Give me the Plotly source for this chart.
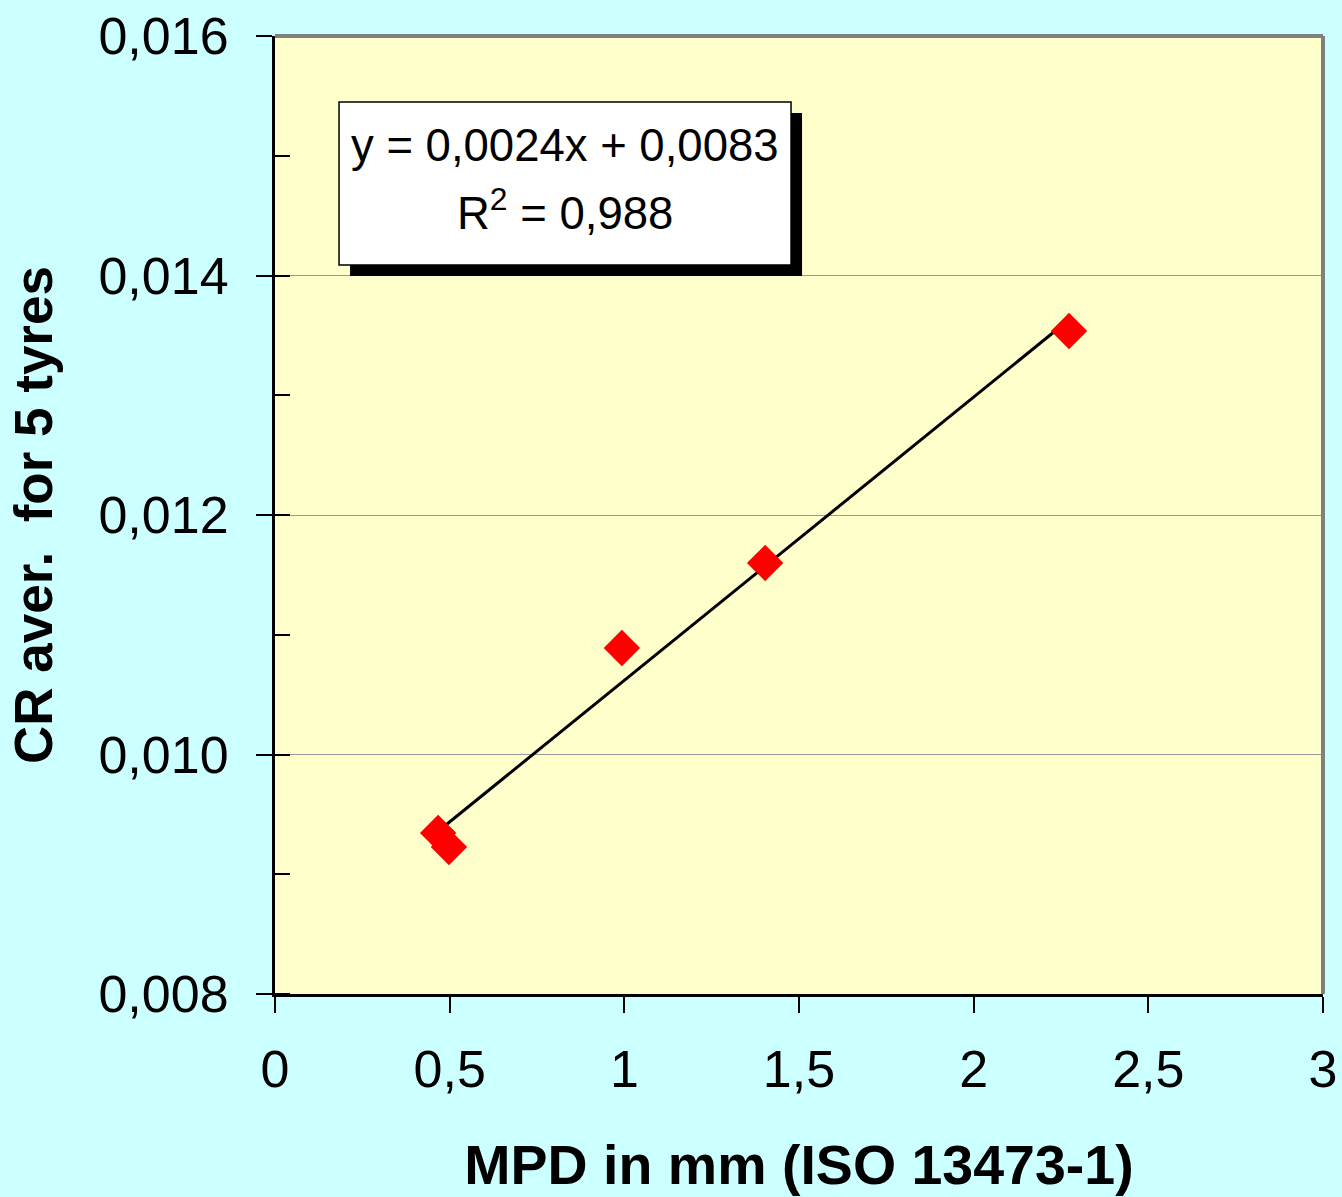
import numpy as np
import plotly.graph_objects as go

# Data
mpd = [0.467, 0.498, 0.993, 1.403, 2.273]
cr = [0.009344, 0.009228, 0.010889, 0.011599, 0.013537]
x_ticks = [0, 0.5, 1, 1.5, 2, 2.5, 3]
x_tick_labels = ["0", "0,5", "1", "1,5", "2", "2,5", "3"]
y_ticks = [0.008, 0.010, 0.012, 0.014, 0.016]
y_tick_labels = ["0,008", "0,010", "0,012", "0,014", "0,016"]
eq_text = "y = 0,0024x + 0,0083"
r2_text = "R<sup>2</sup> = 0,988"

# linear trend line from data
slope, intercept = np.polyfit(mpd, cr, 1)
trend_x = [min(mpd), max(mpd)]
trend_y = [slope * v + intercept for v in trend_x]

FONT = "Liberation Sans, Arial, sans-serif"

fig = go.Figure()
fig.add_trace(go.Scatter(x=trend_x, y=trend_y, mode="lines",
                         line=dict(color="black", width=3), showlegend=False,
                         hoverinfo="skip"))
fig.add_trace(go.Scatter(x=mpd, y=cr, mode="markers",
                         marker=dict(symbol="diamond", size=28, color="#FF0000",
                                     line=dict(width=0)),
                         showlegend=False))

# box with shadow (paper coords)
fig.add_shape(type="rect", xref="paper", yref="paper",
              x0=0.0716, x1=0.5029, y0=0.7495, y1=0.9196,
              fillcolor="black", line=dict(width=0), layer="above")
fig.add_shape(type="rect", xref="paper", yref="paper",
              x0=0.0611, x1=0.4924, y0=0.7610, y1=0.9311,
              fillcolor="white", line=dict(color="black", width=1.5), layer="above")
fig.add_annotation(xref="paper", yref="paper", x=0.2767, y=0.886, text=eq_text,
                   showarrow=False, font=dict(family=FONT, size=45.5, color="black"),
                   xanchor="center", yanchor="middle")
fig.add_annotation(xref="paper", yref="paper", x=0.2767, y=0.8184, text=r2_text,
                   showarrow=False, font=dict(family=FONT, size=45.5, color="black"),
                   xanchor="center", yanchor="middle")

# gray top/right border
fig.add_shape(type="line", xref="paper", yref="paper", x0=0, x1=1, y0=1, y1=1,
              line=dict(color="#808080", width=4), layer="above")
fig.add_shape(type="line", xref="paper", yref="paper", x0=1, x1=1, y0=0, y1=1,
              line=dict(color="#808080", width=4), layer="above")

fig.update_layout(
    width=1342, height=1197,
    margin=dict(l=275, r=19, t=36, b=203),
    paper_bgcolor="#CCFFFF", plot_bgcolor="#FFFFCC",
    separators=",.",
    font=dict(family=FONT, color="black"),
    showlegend=False,
)
fig.update_xaxes(
    range=[0, 3], tickvals=x_ticks, ticktext=x_tick_labels,
    showgrid=False, zeroline=False,
    showline=True, linecolor="black", linewidth=3,
    ticks="outside", ticklen=16, tickwidth=2, tickcolor="black",
    tickfont=dict(size=52, family=FONT, color="black"),
    ticklabelstandoff=12,
    title=dict(text="<b>MPD in mm (ISO 13473-1)</b>", font=dict(size=55.5, family=FONT, color="black"),
               standoff=48),
    automargin=False,
)
fig.update_yaxes(
    range=[0.008, 0.016], tickvals=y_ticks, ticktext=y_tick_labels,
    showgrid=True, gridcolor="#999999", gridwidth=1, zeroline=False,
    showline=True, linecolor="black", linewidth=3,
    ticks="outside", ticklen=16, tickwidth=2, tickcolor="black",
    minor=dict(dtick=0.001, tick0=0.008, ticks="inside", ticklen=15, tickwidth=2, tickcolor="black", showgrid=False),
    tickfont=dict(size=52, family=FONT, color="black"),
    ticklabelstandoff=17,
    title=dict(text="<b>CR aver.  for 5 tyres</b>", font=dict(size=53, family=FONT, color="black"),
               standoff=29),
    automargin=False,
)

fig.write_html("out.html", config={"displayModeBar": False},
               post_script="document.body.style.margin='0px';document.body.style.overflow='hidden';")
